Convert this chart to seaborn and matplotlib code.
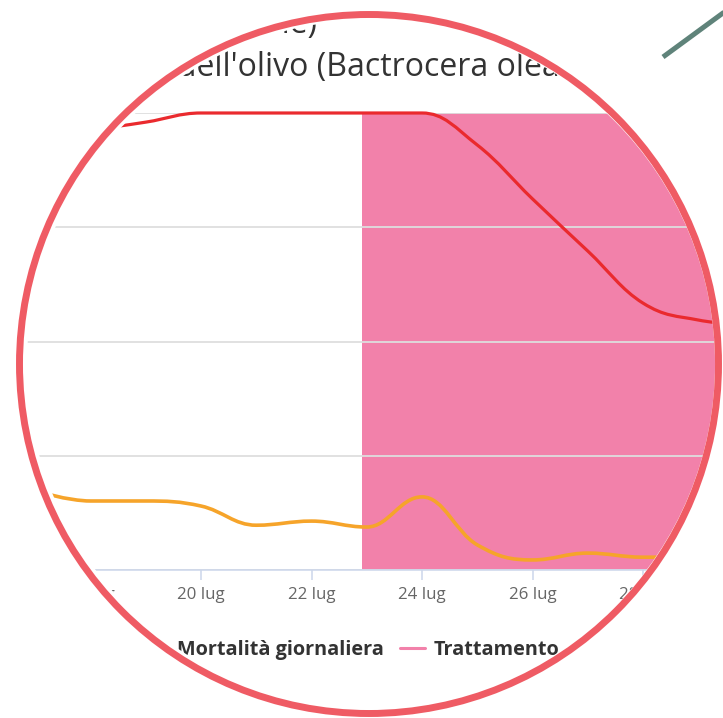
import numpy as np
import pandas as pd
import matplotlib
matplotlib.use("Agg")
import matplotlib.pyplot as plt
import matplotlib.dates as mdates
from matplotlib.path import Path
from matplotlib.patches import PathPatch, Circle
from matplotlib.lines import Line2D
import seaborn as sns

# Data (percent)
days = ["2023-07-17", "2023-07-18", "2023-07-19", "2023-07-20", "2023-07-21",
        "2023-07-22", "2023-07-23", "2023-07-24", "2023-07-25", "2023-07-26",
        "2023-07-27", "2023-07-28", "2023-07-29", "2023-07-30"]
popolazione = [95.0, 96.3, 98.0, 100.0, 100.0, 100.0, 100.0, 100.0,
               93.0, 81.2, 69.8, 58.4, 54.7, 53.6]
mortalita = [17.3, 15.1, 15.1, 14.0, 9.8, 10.7, 9.4, 16.0,
             5.5, 2.2, 3.7, 2.8, 2.8, 2.8]
tick_days = ["2023-07-18", "2023-07-20", "2023-07-22", "2023-07-24",
             "2023-07-26", "2023-07-28"]
tick_labels = ["18 lug", "20 lug", "22 lug", "24 lug", "26 lug", "28 lug"]
treatment_start = "2023-07-22 22:00"
treatment_end = "2023-07-31"
legend_labels = ["Sopravvivenza", "Mortalità giornaliera", "Trattamento"]

RED = "#ea2a2e"
ORANGE = "#f6a42a"
PINK = "#f281aa"
RING = "#ef5b64"
HANDLE = "#5f837a"


def spline_path(xs, ys, smoothing=1.5):
    """Highcharts-style spline through the points as a bezier path"""
    denom = smoothing + 1
    n = len(xs)
    left = [None] * n
    right = [None] * n
    for i in range(1, n - 1):
        px, py = xs[i - 1], ys[i - 1]
        x, y = xs[i], ys[i]
        nx, ny = xs[i + 1], ys[i + 1]
        lcx, lcy = (smoothing * x + px) / denom, (smoothing * y + py) / denom
        rcx, rcy = (smoothing * x + nx) / denom, (smoothing * y + ny) / denom
        if rcx != lcx:
            corr = ((rcy - lcy) * (rcx - x)) / (rcx - lcx) + y - rcy
            lcy += corr
            rcy += corr
        if lcy > py and lcy > y:
            lcy = max(py, y); rcy = 2 * y - lcy
        elif lcy < py and lcy < y:
            lcy = min(py, y); rcy = 2 * y - lcy
        if rcy > ny and rcy > y:
            rcy = max(ny, y); lcy = 2 * y - rcy
        elif rcy < ny and rcy < y:
            rcy = min(ny, y); lcy = 2 * y - rcy
        left[i] = (lcx, lcy)
        right[i] = (rcx, rcy)
    verts = [(xs[0], ys[0])]
    codes = [Path.MOVETO]
    for i in range(1, n):
        c1 = right[i - 1] if right[i - 1] else (xs[i - 1], ys[i - 1])
        c2 = left[i] if left[i] else (xs[i], ys[i])
        verts += [c1, c2, (xs[i], ys[i])]
        codes += [Path.CURVE4] * 3
    return Path(verts, codes)


sns.set_style("white")
plt.rcParams['font.family'] = ['Open Sans', 'DejaVu Sans']

W, H = 723, 718
fig = plt.figure(figsize=(W / 100, H / 100), dpi=100)

# plot area in pixels: x 20..723, y 113..570
ax = fig.add_axes([20 / W, (H - 570) / H, (W - 20) / W, (570 - 113) / H])

x = mdates.date2num(pd.to_datetime(days))
x20 = mdates.date2num(pd.Timestamp("2023-07-20"))
px_per_day = 55.25

sns.lineplot(x=x, y=popolazione, ax=ax, color=RED, linewidth=2.3)
sns.lineplot(x=x, y=mortalita, ax=ax, color=ORANGE, linewidth=2.6)

# smooth the seaborn lines like the original spline chart
for line in list(ax.lines):
    xd, yd = line.get_xdata(), line.get_ydata()
    patch = PathPatch(spline_path(list(xd), list(yd)), facecolor="none",
                      edgecolor=line.get_color(), linewidth=line.get_linewidth(),
                      zorder=3, clip_on=False, capstyle="round", joinstyle="round")
    ax.add_patch(patch)
    line.set_visible(False)

ax.axvspan(mdates.date2num(pd.Timestamp(treatment_start)),
           mdates.date2num(pd.Timestamp(treatment_end)),
           color=PINK, linewidth=0, zorder=0.2)

ax.set_xlim(x20 + (20 - 201) / px_per_day, x20 + (W - 201) / px_per_day)
ax.set_ylim(0, 100)
ax.set_yticks([0, 25, 50, 75, 100])
ax.yaxis.grid(True, color="#dedede", linewidth=1.3)
ax.set_axisbelow(True)
ax.tick_params(axis="y", left=False, labelleft=False)
ax.set_xticks(mdates.date2num(pd.to_datetime(tick_days)))
ax.set_xticklabels(tick_labels)
ax.tick_params(axis="x", bottom=True, length=7.5, width=1.1, color="#ccd6eb",
               labelcolor="#666666", labelsize=12.2, pad=4.5)
for side in ["top", "right", "left"]:
    ax.spines[side].set_visible(False)
ax.spines["bottom"].set_color("#ccd6eb")
ax.spines["bottom"].set_linewidth(1.1)
ax.set_xlabel("")
ax.set_ylabel("")
ax.patch.set_alpha(0)

# overlay in pixel coordinates: title, legend, magnifier mask and ring
ov = fig.add_axes([0, 0, 1, 1])
ov.set_xlim(0, W)
ov.set_ylim(H, 0)
ov.axis("off")
ov.set_zorder(10)
ov.patch.set_alpha(0)

ov.text(317, 33, "Mortalità simulata (stime)", ha="right",
        va="baseline", fontsize=23, color="#333333", zorder=2)
ov.text(168, 76, "mosca", ha="right", va="baseline",
        fontsize=23, color="#333333", zorder=2)
ov.text(177, 76, "dell'olivo (Bactrocera oleae)", ha="left", va="baseline",
        fontsize=23, color="#333333", zorder=2)

handles = [Line2D([], [], color=RED, linewidth=2.2),
           Line2D([], [], color=ORANGE, linewidth=2.2),
           Line2D([], [], color=PINK, linewidth=2.2)]
leg = ov.legend(handles, legend_labels, loc="center right",
                bbox_to_anchor=(559, 650), bbox_transform=ov.transData,
                ncol=3, frameon=False, borderpad=0, borderaxespad=0,
                handlelength=1.25, handletextpad=0.4, columnspacing=0.85,
                prop={"weight": "bold", "size": 14.3})
for t in leg.get_texts():
    t.set_color("#333333")
leg.set_zorder(2)

rect = Path([(-20, -20), (-20, H + 20), (W + 20, H + 20), (W + 20, -20), (-20, -20)],
            closed=True)
mask = Path.make_compound_path(rect, Path.circle((371, 364), 344))
ov.add_patch(PathPatch(mask, facecolor="white", edgecolor="none", zorder=5))
ov.add_patch(Circle((369, 364), 349.5, facecolor="none", edgecolor=RING,
                    linewidth=5.0, zorder=6))
ov.plot([663, 663 + 90], [57, 57 - 90 * 44 / 60], color=HANDLE, linewidth=3.6,
        solid_capstyle="butt", zorder=7)

fig.savefig("out.png", dpi=100)
